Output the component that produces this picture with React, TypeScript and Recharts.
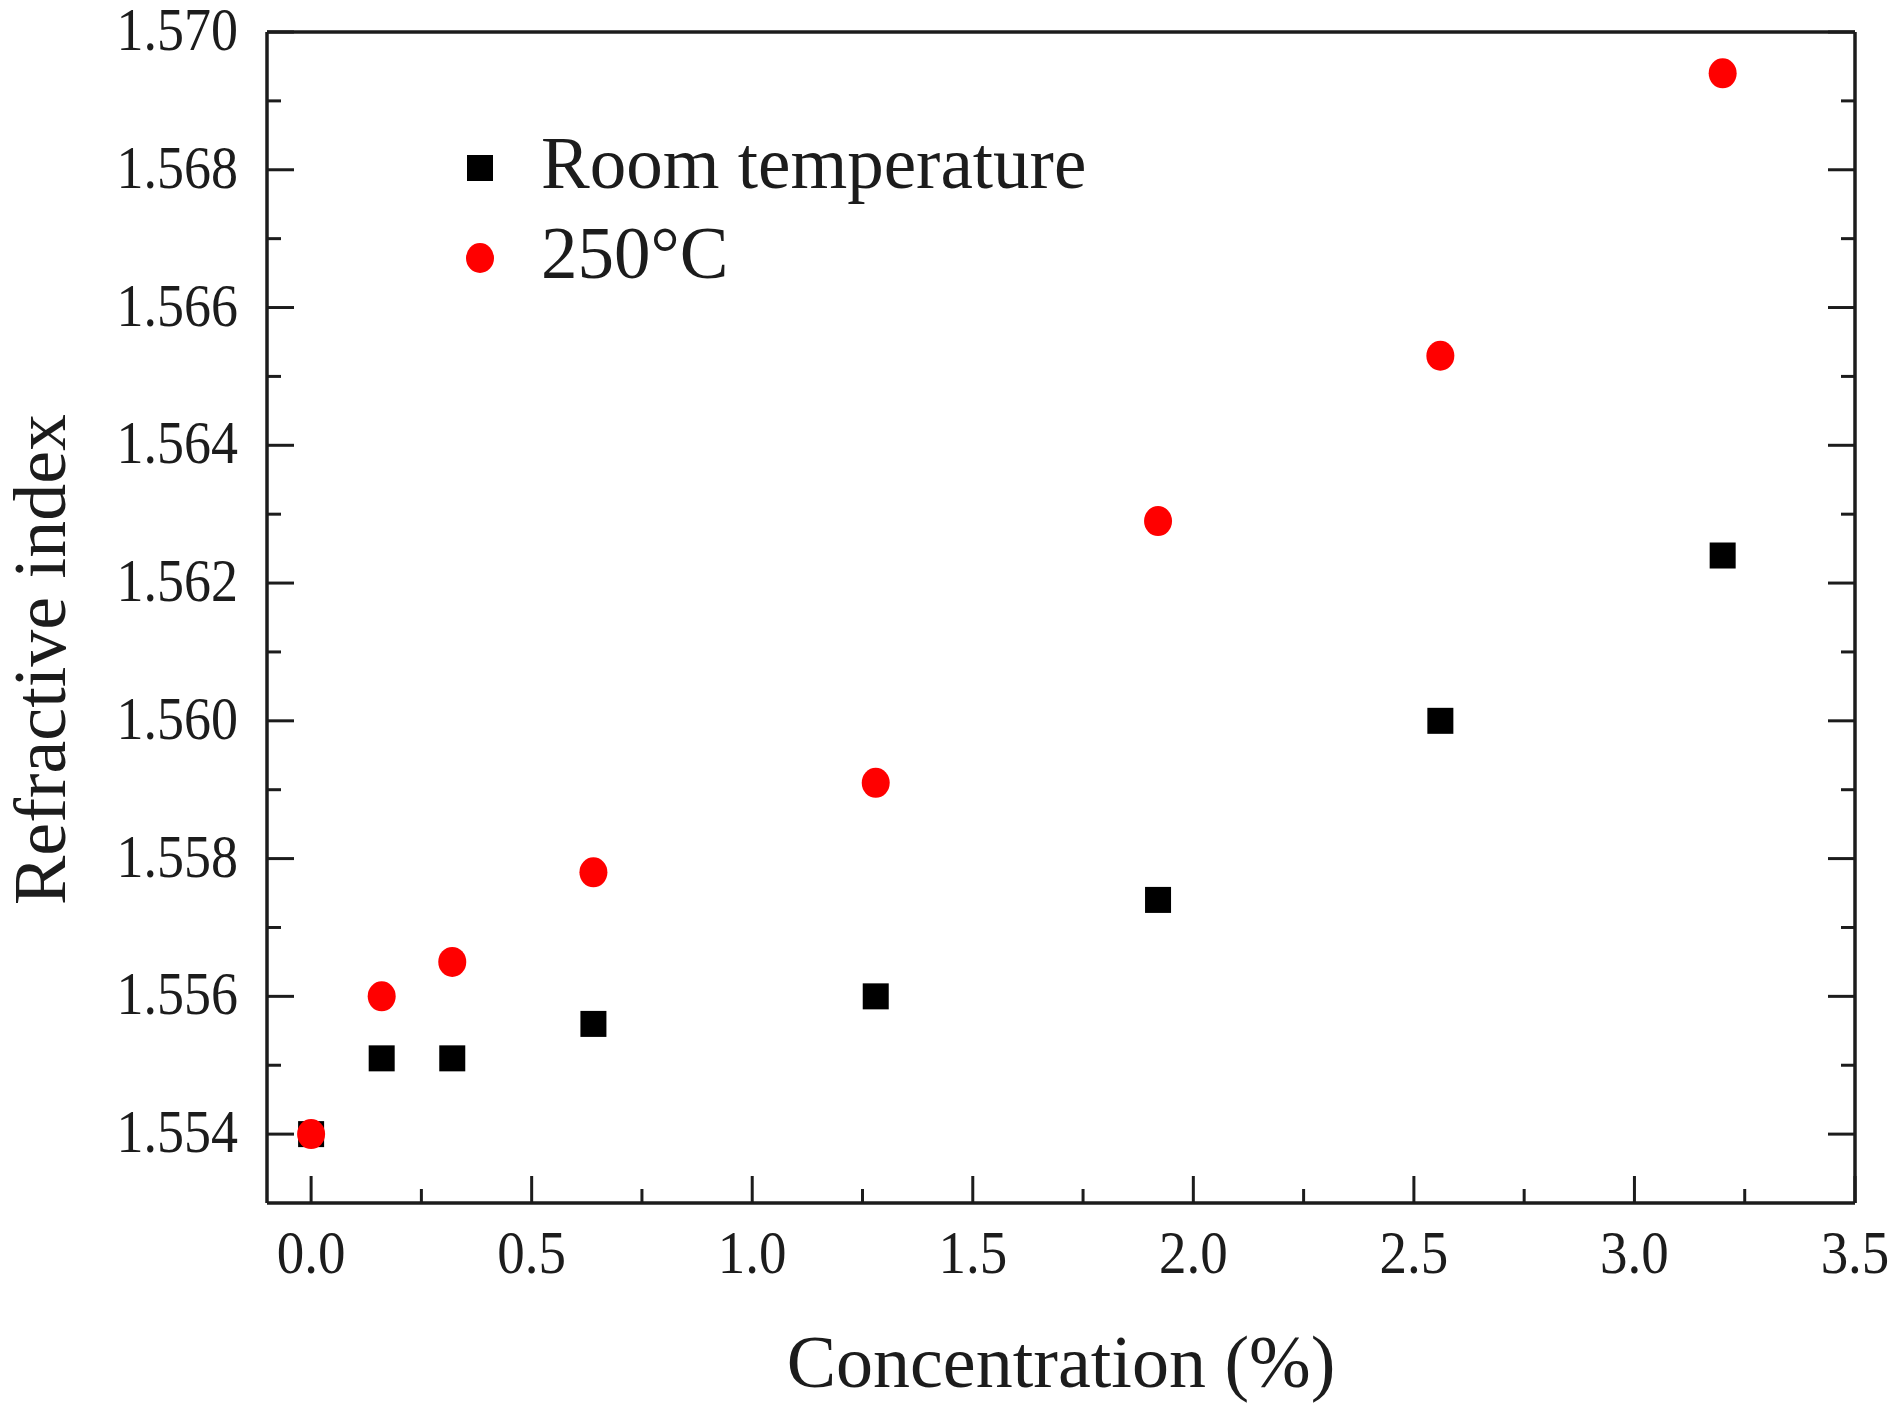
import React from "react";
import { ScatterChart, Scatter, XAxis, YAxis, Legend } from "recharts";

const concentration = [0, 0.16, 0.32, 0.64, 1.28, 1.92, 2.56, 3.2];
const roomTemperature = [1.554, 1.5551, 1.5551, 1.5556, 1.556, 1.5574, 1.56, 1.5624];
const temp250 = [1.554, 1.556, 1.5565, 1.5578, 1.5591, 1.5629, 1.5653, 1.5694];
const seriesNames = ["Room temperature", "250°C"];

const xMajor = [0, 0.5, 1, 1.5, 2, 2.5, 3, 3.5];
const xMinor = [0.25, 0.75, 1.25, 1.75, 2.25, 2.75, 3.25];
const yMajor = [1.554, 1.556, 1.558, 1.56, 1.562, 1.564, 1.566, 1.568, 1.57];
const yMinor = [1.555, 1.557, 1.559, 1.561, 1.563, 1.565, 1.567, 1.569];

const roomData = concentration.map((x, i) => ({ x, y: roomTemperature[i] }));
const hotData = concentration.map((x, i) => ({ x, y: temp250[i] }));

const xTicks = [...xMajor, ...xMinor].sort((a, b) => a - b);
const yTicks = [...yMajor, ...yMinor].sort((a, b) => a - b);

const INK = "#1c1c1c";
const FONT = "'Liberation Serif', 'Times New Roman', serif";
const MAJOR = 27;
const MINOR = 14;

// ticks point inward; lengths differ for major / minor marks
const makeTick = (side: string, majors: number[], withLabel: boolean) => (props: any) => {
  const { x, y, payload } = props;
  const v = payload.value;
  const major = majors.includes(v);
  const len = major ? MAJOR : MINOR;
  let x2 = x;
  let y2 = y;
  if (side === "bottom") y2 = y - len;
  if (side === "top") y2 = y + len;
  if (side === "left") x2 = x + len;
  if (side === "right") x2 = x - len;
  let label = null;
  if (withLabel && major) {
    if (side === "bottom") {
      label = (
        <text
          transform={`translate(${x},${y + 70}) scale(1,1.13)`}
          textAnchor="middle"
          fontSize={55}
          fontFamily={FONT}
          fill={INK}
        >
          {v.toFixed(1)}
        </text>
      );
    } else {
      label = (
        <text
          transform={`translate(${x - 29},${y + 18}) scale(1,1.15)`}
          textAnchor="end"
          fontSize={54}
          fontFamily={FONT}
          fill={INK}
        >
          {v.toFixed(3)}
        </text>
      );
    }
  }
  return (
    <g>
      <line x1={x} y1={y} x2={x2} y2={y2} stroke={INK} strokeWidth={3} />
      {label}
    </g>
  );
};

const XTitle = (props: any) => {
  const { x, y, width, height } = props.viewBox;
  return (
    <text x={x + width / 2} y={y + height - 21} textAnchor="middle" fontSize={74} fontFamily={FONT} fill={INK}>
      Concentration (%)
    </text>
  );
};

const YTitle = (props: any) => {
  const { x, y, height } = props.viewBox;
  const bx = x + 57;
  const cy = y + height / 2 + 42;
  return (
    <text
      x={bx}
      y={cy}
      transform={`rotate(-90 ${bx} ${cy})`}
      textAnchor="middle"
      fontSize={74}
      fontFamily={FONT}
      fill={INK}
    >
      Refractive index
    </text>
  );
};

const Square = (p: any) => <rect x={p.cx - 13} y={p.cy - 13} width={26} height={26} fill="#000000" />;
const Dot = (p: any) => <ellipse cx={p.cx} cy={p.cy} rx={14} ry={15} fill="#ff0000" />;

const LegendBox = (props: any) => {
  const items = [...props.payload].sort(
    (a: any, b: any) => seriesNames.indexOf(a.value) - seriesNames.indexOf(b.value)
  );
  return (
    <div>
      {items.map((entry: any) => (
        <div key={entry.value} style={{ height: 90, display: "flex", alignItems: "center" }}>
          <svg width={30} height={32} style={{ marginRight: 46 }}>
            {entry.type === "square" ? (
              <rect x={2} y={3} width={26} height={26} fill="#000000" />
            ) : (
              <ellipse cx={15} cy={16} rx={14} ry={15} fill="#ff0000" />
            )}
          </svg>
          <span style={{ fontFamily: FONT, fontSize: 73, color: INK, lineHeight: 1, marginTop: -10 }}>
            {entry.value}
          </span>
        </div>
      ))}
    </div>
  );
};

export default function App() {
  const axisLine = { stroke: INK, strokeWidth: 3.5 };
  return (
    <ScatterChart width={1880} height={1400} margin={{ top: 23, right: 32, bottom: 0, left: 0 }}>
      <XAxis
        type="number"
        dataKey="x"
        domain={[-0.1, 3.5]}
        allowDataOverflow
        ticks={xTicks}
        interval={0}
        height={205}
        tickSize={0}
        tickMargin={0}
        tickLine={false}
        axisLine={axisLine}
        tick={makeTick("bottom", xMajor, true)}
        label={XTitle}
      />
      <XAxis
        xAxisId="top"
        orientation="top"
        type="number"
        domain={[-0.1, 3.5]}
        allowDataOverflow
        ticks={xTicks}
        interval={0}
        height={1}
        tickSize={0}
        tickMargin={0}
        tickLine={false}
        axisLine={axisLine}
        tick={makeTick("top", xMajor, false)}
      />
      <YAxis
        type="number"
        dataKey="y"
        domain={[1.553, 1.57]}
        allowDataOverflow
        ticks={yTicks}
        interval={0}
        width={259}
        tickSize={0}
        tickMargin={0}
        tickLine={false}
        axisLine={axisLine}
        tick={makeTick("left", yMajor, true)}
        label={YTitle}
      />
      <YAxis
        yAxisId="right"
        orientation="right"
        type="number"
        domain={[1.553, 1.57]}
        allowDataOverflow
        ticks={yTicks}
        interval={0}
        width={1}
        tickSize={0}
        tickMargin={0}
        tickLine={false}
        axisLine={axisLine}
        tick={makeTick("right", yMajor, false)}
      />
      <Legend
        layout="vertical"
        align="center"
        verticalAlign="middle"
        content={LegendBox}
        wrapperStyle={{ left: 457, top: 115, width: "auto", height: "auto" }}
      />
      <Scatter
        name={seriesNames[0]}
        data={roomData}
        legendType="square"
        shape={Square}
        isAnimationActive={false}
      />
      <Scatter
        name={seriesNames[1]}
        data={hotData}
        legendType="circle"
        shape={Dot}
        isAnimationActive={false}
      />
    </ScatterChart>
  );
}
